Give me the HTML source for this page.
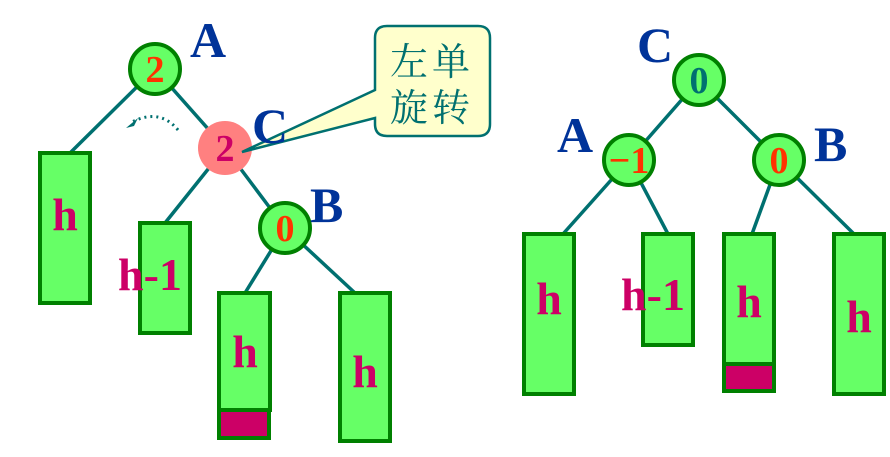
<!DOCTYPE html>
<html><head><meta charset="utf-8"><style>
body{margin:0;background:#fff;}
svg{display:block;}
.lb{font-family:"Liberation Serif",serif;font-weight:bold;font-size:50px;fill:#003399;}
.h{font-family:"Liberation Serif",serif;font-weight:bold;font-size:46px;fill:#cc0066;}
.n{font-family:"Liberation Serif",serif;font-weight:bold;font-size:38px;fill:#ff3300;}
</style></head><body>
<svg width="890" height="457" viewBox="0 0 890 457">
<g stroke="#007070" stroke-width="3.5" fill="none">
<line x1="155" y1="69" x2="70" y2="153"/>
<line x1="155" y1="69" x2="225" y2="148"/>
<line x1="225" y1="148" x2="165" y2="223"/>
<line x1="225" y1="148" x2="285" y2="228"/>
<line x1="285" y1="228" x2="245" y2="293"/>
<line x1="285" y1="228" x2="355" y2="293"/>
<line x1="699" y1="80" x2="629" y2="160"/>
<line x1="699" y1="80" x2="779" y2="160"/>
<line x1="629" y1="160" x2="563" y2="234"/>
<line x1="629" y1="160" x2="668" y2="234"/>
<line x1="779" y1="160" x2="752" y2="234"/>
<line x1="779" y1="160" x2="854" y2="234"/>
<path d="M178 130 Q160 108 132 122" stroke-dasharray="2 4" stroke-width="3"/>
</g>
<polygon points="126,128 138,118 134,126" fill="#007070"/>
<g fill="#66ff66" stroke="#008000" stroke-width="4">
<rect x="40" y="153" width="50" height="150"/>
<rect x="140" y="223" width="50" height="110"/>
<rect x="219" y="293" width="51" height="117"/>
<rect x="340" y="293" width="50" height="148"/>
<rect x="524" y="234" width="50" height="160"/>
<rect x="643" y="234" width="50" height="111"/>
<rect x="724" y="234" width="50" height="130"/>
<rect x="834" y="234" width="50" height="160"/>
</g>
<g fill="#cc0066" stroke="#008000" stroke-width="4">
<rect x="219" y="410" width="50" height="28"/>
<rect x="724" y="364" width="50" height="27"/>
</g>
<g fill="#66ff66" stroke="#008000" stroke-width="4">
<circle cx="155" cy="69" r="25"/>
<circle cx="285" cy="228" r="25"/>
<circle cx="699" cy="80" r="25"/>
<circle cx="629" cy="160" r="25"/>
<circle cx="779" cy="160" r="25"/>
</g>
<circle cx="225" cy="148" r="27" fill="#ff8080"/>
<path d="M375 90 L242 152 L375 118 L375 124 Q375 136 387 136 L478 136 Q490 136 490 124 L490 38 Q490 26 478 26 L387 26 Q375 26 375 38 Z" fill="#ffffcc" stroke="#007070" stroke-width="2.5"/>
<text x="432" y="75" text-anchor="middle" font-family="'Noto Serif CJK SC','Noto Sans CJK SC',serif" font-size="38" fill="#007070" letter-spacing="4">左单</text>
<text x="432" y="121" text-anchor="middle" font-family="'Noto Serif CJK SC','Noto Sans CJK SC',serif" font-size="38" fill="#007070" letter-spacing="4">旋转</text>
<text class="n" x="155" y="82" text-anchor="middle">2</text>
<text class="n" x="225" y="161" text-anchor="middle" style="fill:#cc0066">2</text>
<text class="n" x="285" y="241" text-anchor="middle">0</text>
<text class="n" x="699" y="93" text-anchor="middle" style="fill:#007070">0</text>
<text class="n" x="629" y="173" text-anchor="middle">−1</text>
<text class="n" x="779" y="173" text-anchor="middle">0</text>
<text class="lb" x="190" y="57">A</text>
<text class="lb" x="252" y="143">C</text>
<text class="lb" x="310" y="222">B</text>
<text class="lb" x="637" y="62">C</text>
<text class="lb" x="557" y="152">A</text>
<text class="lb" x="814" y="161">B</text>
<text class="h" x="65" y="230" text-anchor="middle">h</text>
<text class="h" x="150" y="290" text-anchor="middle">h-1</text>
<text class="h" x="245" y="367" text-anchor="middle">h</text>
<text class="h" x="365" y="387" text-anchor="middle">h</text>
<text class="h" x="549" y="314" text-anchor="middle">h</text>
<text class="h" x="653" y="310" text-anchor="middle">h-1</text>
<text class="h" x="749" y="317" text-anchor="middle">h</text>
<text class="h" x="859" y="332" text-anchor="middle">h</text>
</svg>
</body></html>
